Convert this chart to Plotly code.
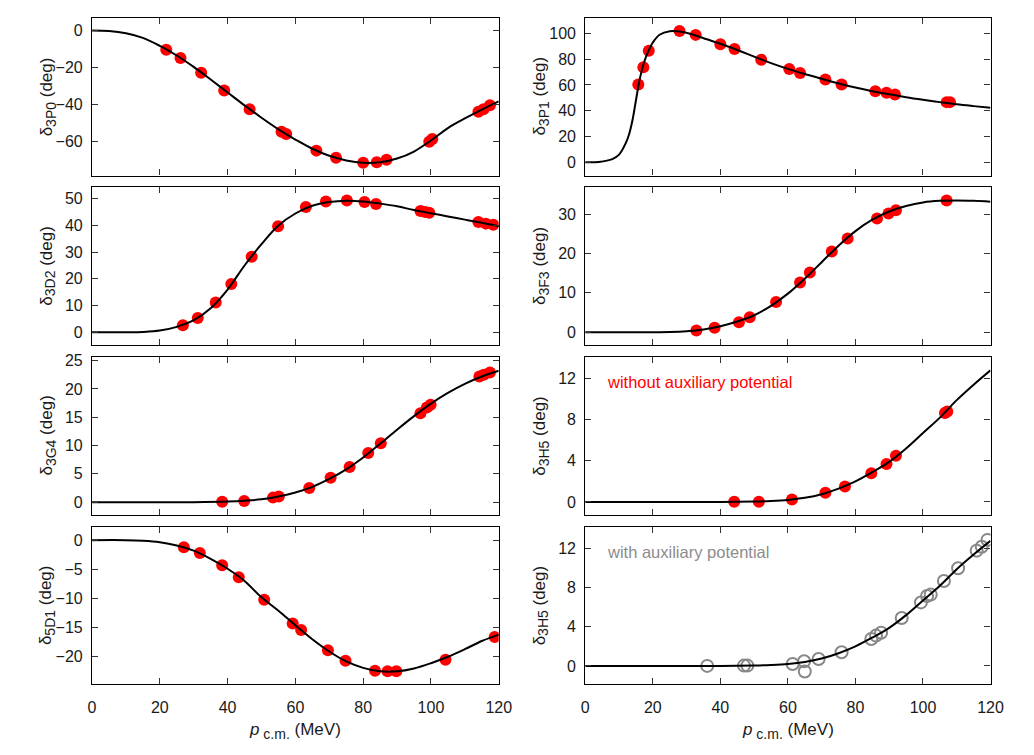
import plotly.graph_objects as go

W, H = 1034, 755

# ---------------- data ----------------
# curves (fit), sampled in p (MeV)
c3P0_x = [0, 5, 10, 15, 20, 25, 30, 35, 40, 45, 50, 55, 60, 65, 70, 75, 80, 85, 90, 95, 100, 105, 110, 115, 120]
c3P0_y = [0, -0.3, -1.5, -4, -8.3, -13.5, -19.7, -26.5, -33.5, -40.5, -47.2, -53.5, -59, -64, -67.8, -70.3, -71.6, -71.3, -69.3, -65.5, -59.5, -52.8, -47.6, -42.8, -38.3]
p3P0_x = [21.9, 26.1, 32.2, 39.0, 46.5, 55.9, 57.3, 66.2, 72.0, 80.0, 84.0, 86.9, 99.5, 100.4, 114.0, 115.5, 117.4]
p3P0_y = [-10.4, -14.8, -22.9, -32.4, -42.6, -54.8, -56.0, -65.0, -68.9, -71.6, -71.3, -70.0, -60.2, -58.7, -43.9, -42.6, -40.5]

c3P1_x = [0, 4, 8, 10, 12, 13, 14, 15, 16, 17, 18, 19, 20, 22, 25, 28, 32, 36, 40, 45, 50, 55, 60, 65, 70, 75, 80, 85, 90, 95, 100, 105, 110, 115, 120]
c3P1_y = [0, 0.3, 2.5, 6, 15, 22, 33, 48, 63, 74, 82, 88, 93, 99, 101.8, 101.5, 99, 95.5, 92, 87.2, 82, 77, 72.5, 68.5, 64.8, 61.2, 58, 55.2, 52.8, 50.5, 48.5, 46.7, 45, 43.6, 42.3]
p3P1_x = [15.7, 17.2, 18.8, 27.9, 32.7, 40.0, 44.2, 52.1, 60.4, 63.6, 71.1, 75.9, 85.9, 89.2, 91.7, 107.0, 108.0]
p3P1_y = [60.4, 73.7, 86.6, 102, 98.9, 91.7, 87.9, 79.6, 72.5, 69.4, 64.2, 60.4, 55.2, 54.0, 52.7, 46.7, 46.7]

c3D2_x = [0, 10, 15, 20, 25, 30, 35, 40, 45, 50, 55, 60, 65, 70, 75, 80, 85, 90, 95, 100, 105, 110, 115, 120]
c3D2_y = [0, 0, 0.1, 0.6, 2, 4.5, 9, 16, 25, 33, 40, 44.5, 47.4, 48.8, 49.3, 49, 48.2, 47.2, 45.8, 44.6, 43.4, 42.2, 41, 39.7]
p3D2_x = [26.8, 31.2, 36.5, 41.1, 47.1, 54.9, 63.1, 69.0, 75.2, 80.4, 83.8, 96.9, 98.3, 99.5, 114.0, 116.2, 118.4]
p3D2_y = [2.6, 5.3, 11.1, 18.1, 28.3, 39.7, 46.9, 49.0, 49.4, 48.8, 48.1, 45.4, 45.1, 44.8, 41.3, 40.7, 40.3]

c3F3_x = [0, 20, 25, 30, 35, 40, 45, 50, 55, 60, 65, 70, 75, 80, 85, 90, 95, 100, 105, 110, 115, 120]
c3F3_y = [0, 0, 0.05, 0.25, 0.7, 1.5, 2.7, 4.3, 6.7, 9.8, 13.6, 17.8, 22, 25.7, 28.6, 30.7, 32.1, 33, 33.4, 33.5, 33.4, 33.2]
p3F3_x = [32.9, 38.3, 45.5, 48.7, 56.5, 63.6, 66.5, 73.0, 77.7, 86.4, 89.8, 92.0, 107.0]
p3F3_y = [0.4, 1.1, 2.5, 3.8, 7.7, 12.6, 15.2, 20.5, 23.8, 28.9, 30.2, 31.0, 33.5]

c3G4_x = [0, 30, 40, 45, 50, 55, 60, 65, 70, 75, 80, 85, 90, 95, 100, 105, 110, 115, 120]
c3G4_y = [0, 0, 0.1, 0.25, 0.5, 1.0, 1.7, 2.7, 4.1, 5.8, 7.9, 10.3, 12.8, 15.2, 17.4, 19.3, 20.9, 22.2, 23.2]
p3G4_x = [38.4, 44.9, 53.4, 55.1, 64.1, 70.4, 76.0, 81.5, 85.2, 96.9, 98.8, 99.9, 114.3, 115.6, 117.4]
p3G4_y = [0.05, 0.2, 0.8, 1.0, 2.5, 4.3, 6.2, 8.7, 10.4, 15.7, 16.7, 17.2, 22.2, 22.5, 22.9]

c3H5_x = [0, 40, 50, 55, 60, 65, 70, 75, 80, 85, 90, 95, 100, 105, 110, 115, 120]
c3H5_y = [0, 0, 0.05, 0.1, 0.2, 0.4, 0.75, 1.3, 2.0, 2.9, 3.9, 5.2, 6.7, 8.2, 9.9, 11.4, 12.8]
p3H5_x = [44.1, 51.4, 61.2, 71.1, 76.9, 84.7, 89.2, 92.0, 106.5, 107.2]
p3H5_y = [0.03, 0.03, 0.25, 0.9, 1.5, 2.8, 3.7, 4.5, 8.65, 8.8]

c5D1_x = [0, 10, 15, 20, 25, 30, 35, 40, 45, 50, 55, 60, 65, 70, 75, 80, 85, 90, 95, 100, 105, 110, 115, 120]
c5D1_y = [0, 0, -0.1, -0.35, -0.9, -1.8, -3.2, -4.9, -7, -9.8, -12.1, -14.6, -17, -19.1, -20.8, -21.9, -22.5, -22.5, -22, -21.1, -20, -18.7, -17.3, -16.2]
p5D1_x = [27.1, 31.8, 38.4, 43.3, 50.8, 59.2, 61.7, 69.6, 74.8, 83.5, 87.2, 89.8, 104.3, 118.8]
p5D1_y = [-1.2, -2.2, -4.3, -6.35, -10.2, -14.3, -15.4, -18.9, -20.7, -22.4, -22.5, -22.5, -20.5, -16.6]

paux_x = [36.1, 47.0, 48.0, 61.4, 64.8, 65.0, 69.1, 75.9, 84.7, 86.1, 87.6, 93.7, 99.4, 101.2, 102.3, 106.2, 110.4, 115.9, 117.4, 119.1]
paux_y = [0.0, 0.03, 0.03, 0.2, 0.47, -0.58, 0.7, 1.4, 2.75, 3.1, 3.4, 4.9, 6.5, 7.15, 7.3, 8.7, 10.0, 11.8, 12.2, 12.9]

x_ticks = [0, 20, 40, 60, 80, 100, 120]

# panels: (row, col, label, curve_x, curve_y, pts_x, pts_y, open, yrange, yticks)
panels = [
    (0, 0, "3P0", c3P0_x, c3P0_y, p3P0_x, p3P0_y, False, [-78.5, 7], [-60, -40, -20, 0]),
    (0, 1, "3P1", c3P1_x, c3P1_y, p3P1_x, p3P1_y, False, [-10.3, 112.3], [0, 20, 40, 60, 80, 100]),
    (1, 0, "3D2", c3D2_x, c3D2_y, p3D2_x, p3D2_y, False, [-4.7, 54.4], [0, 10, 20, 30, 40, 50]),
    (1, 1, "3F3", c3F3_x, c3F3_y, p3F3_x, p3F3_y, False, [-3.2, 36.9], [0, 10, 20, 30]),
    (2, 0, "3G4", c3G4_x, c3G4_y, p3G4_x, p3G4_y, False, [-2.2, 25.65], [0, 5, 10, 15, 20, 25]),
    (2, 1, "3H5", c3H5_x, c3H5_y, p3H5_x, p3H5_y, False, [-1.23, 14.1], [0, 4, 8, 12]),
    (3, 0, "5D1", c5D1_x, c5D1_y, p5D1_x, p5D1_y, False, [-24.7, 2.34], [-20, -15, -10, -5, 0]),
    (3, 1, "3H5", c3H5_x, c3H5_y, paux_x, paux_y, True, [-1.87, 14.27], [0, 4, 8, 12]),
]

col_px = [(89.5, 503.0), (591.0, 1003.0)]
row_px = [(12.7, 171.7), (183.3, 342.0), (354.3, 513.0), (525.0, 683.7)]

FONT = "Liberation Sans, Arial, sans-serif"
TXT = "#1a1a1a"
fig = go.Figure()
layout = {}
annotations = []

for i, (r, c, lab, cx, cy, px, py, is_open, yr, yt) in enumerate(panels):
    n = i + 1
    xa = "x" if n == 1 else f"x{n}"
    ya = "y" if n == 1 else f"y{n}"
    if is_open:
        marker = dict(symbol="circle-open", size=12, color="#888888", line=dict(width=2, color="#888888"))
    else:
        marker = dict(symbol="circle", size=12, color="#ff0000", line=dict(width=0))
    fig.add_trace(go.Scatter(x=px, y=py, mode="markers", marker=marker, xaxis=xa, yaxis=ya, showlegend=False))
    fig.add_trace(go.Scatter(x=cx, y=cy, mode="lines", line=dict(color="black", width=2, shape="spline", smoothing=1.0),
                             xaxis=xa, yaxis=ya, showlegend=False))
    x0, x1 = col_px[c]
    t0, t1 = row_px[r]
    common = dict(showline=True, linecolor="black", linewidth=1.2, mirror="ticks", ticks="inside",
                  ticklen=6, tickwidth=1.2, tickcolor="#333333", showgrid=False, zeroline=False,
                  tickfont=dict(family=FONT, size=16, color=TXT))
    layout["xaxis" if n == 1 else f"xaxis{n}"] = dict(
        domain=[x0 / W, x1 / W], range=[0, 120], tickvals=x_ticks,
        showticklabels=(r == 3), anchor=ya, ticklabelstandoff=9, **common)
    layout["yaxis" if n == 1 else f"yaxis{n}"] = dict(
        domain=[1 - t1 / H, 1 - t0 / H], range=yr, tickvals=yt, anchor=xa,
        ticklabelstandoff=5, **common)
    # y title
    annotations.append(dict(text=f"δ<sub><span style='font-size:14px'>{lab}</span></sub> (deg)", textangle=-90,
                            xref="paper", yref="paper",
                            x=(x0 - 45) / W, y=1 - (t0 + t1) / 2 / H, showarrow=False,
                            font=dict(family=FONT, size=17, color=TXT), xanchor="center", yanchor="middle"))

for c in range(2):
    x0, x1 = col_px[c]
    annotations.append(dict(text="<i>p</i><sub><span style='font-size:14px'> c.m.</span></sub> (MeV)",
                            xref="paper", yref="paper",
                            x=(x0 + x1) / 2 / W, y=1 - 731 / H, showarrow=False,
                            font=dict(family=FONT, size=17, color=TXT), xanchor="center", yanchor="middle"))

annotations.append(dict(text="without auxiliary potential", xref="paper", yref="paper",
                        x=611 / W, y=1 - 379.5 / H, showarrow=False, xanchor="left", yanchor="middle",
                        font=dict(family=FONT, size=16.5, color="#ff0000")))
annotations.append(dict(text="with auxiliary potential", xref="paper", yref="paper",
                        x=611 / W, y=1 - 550.5 / H, showarrow=False, xanchor="left", yanchor="middle",
                        font=dict(family=FONT, size=16.5, color="#8c8c8c")))

fig.update_layout(width=W, height=H, margin=dict(l=0, r=0, t=0, b=0), plot_bgcolor="white",
                  paper_bgcolor="white", annotations=annotations, **layout)

fig.write_html("out.html")
